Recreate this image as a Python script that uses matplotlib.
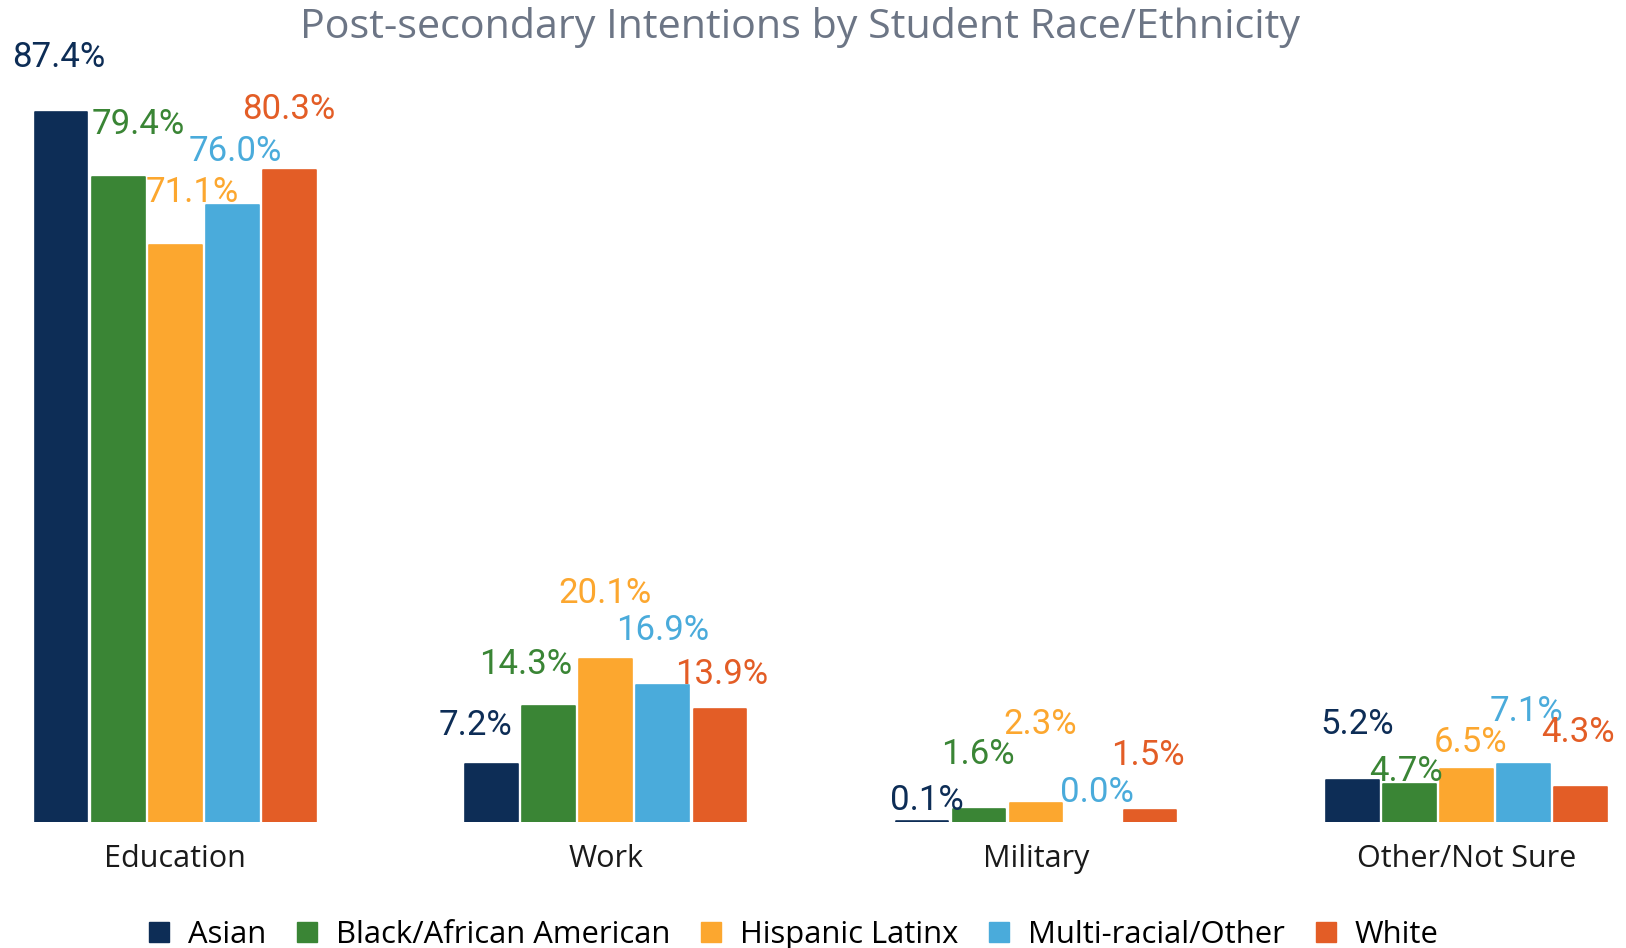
import numpy as np
import matplotlib.pyplot as plt
from matplotlib.patches import Patch

# data
categories = ["Education", "Work", "Military", "Other/Not Sure"]
groups = ["Asian", "Black/African American", "Hispanic Latinx", "Multi-racial/Other", "White"]
asian = [87.4, 7.2, 0.1, 5.2]
black = [79.4, 14.3, 1.6, 4.7]
hispanic = [71.1, 20.1, 2.3, 6.5]
multi = [76.0, 16.9, 0.0, 7.1]
white = [80.3, 13.9, 1.5, 4.3]
values = [asian, black, hispanic, multi, white]

colors = ["#0d2d56", "#3a8535", "#fca72f", "#4aabdb", "#e35d26"]

# label nudges (pixels, dx, dy) per series per category, as in the source chart
nudges = [
    [(-2, 55), (-16, 38), (5, 21), (5, 55)],
    [(20, 53), (-23, 41), (-1, 55), (-3, 12)],
    [(17, 52), (-1, 65), (4, 79), (4, 27)],
    [(3, 53), (0, 54), (4, 29), (3, 53)],
    [(-1, 60), (2, 35), (-2, 54), (-3, 55)],
]

fig = plt.figure(figsize=(16.26, 9.48), dpi=100)
ax = fig.add_axes([0, 1 - 822 / 948, 1, 822 / 948])

x = np.arange(len(categories))
step = 0.1325
width = 0.122
for i, (name, vals, col) in enumerate(zip(groups, values, colors)):
    pos = x + (i - 2) * step
    bars = ax.bar(pos, vals, width=width, color=col, edgecolor=col, linewidth=1.2,
                  joinstyle="round", label=name)
    for b, v in zip(bars, vals):
        if v == 0:
            b.set_linewidth(0)
    for j, v in enumerate(vals):
        dx, dy = nudges[i][j]
        ax.annotate(f"{v:.1f}%", (pos[j], v), xytext=(dx, dy),
                    textcoords="offset pixels", ha="center", va="center",
                    color=col, fontsize=25, family="Roboto",
                    annotation_clip=False)

ax.set_xlim(-175.3 / 430.4, (1626 - 175.3) / 430.4)
ax.set_ylim(0, 822 / 8.12)
ax.axis("off")

for j, c in enumerate(categories):
    ax.text(x[j], -4.6, c, ha="center", va="center", fontsize=22,
            family="Open Sans", color="#1a1a1a", clip_on=False)

fig.text(0.492, 0.971, "Post-secondary Intentions by Student Race/Ethnicity",
         ha="center", va="center", fontsize=29.7, family="Open Sans", color="#6c7585")

handles = [Patch(color=c, label=g) for g, c in zip(groups, colors)]
fig.legend(handles=handles, loc="center", bbox_to_anchor=(0.488, 0.014),
           ncol=5, frameon=False, prop={"family": "Open Sans", "size": 22.3},
           handlelength=0.65, handleheight=0.65, handletextpad=0.6, columnspacing=1.0)

fig.savefig("out.png", dpi=100)
